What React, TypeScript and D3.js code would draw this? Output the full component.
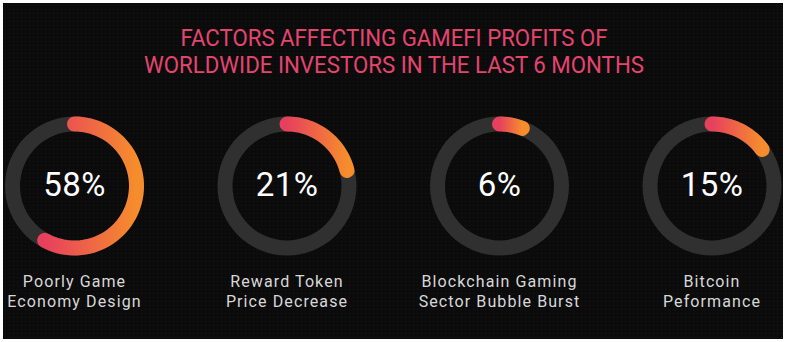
import React from "react";
import * as d3 from "d3";

const titleLines = ["FACTORS AFFECTING GAMEFI PROFITS OF", "WORLDWIDE INVESTORS IN THE LAST 6 MONTHS"];
const categories = [
  ["Poorly Game", "Economy Design"],
  ["Reward Token", "Price Decrease"],
  ["Blockchain Gaming", "Sector Bubble Burst"],
  ["Bitcoin", "Peformance"],
];
const values = [58, 21, 6, 15];

const W = 788;
const H = 342;

export default function App() {
  const x = d3.scalePoint<number>().domain(d3.range(values.length)).range([74.5, 712]);
  const angle = d3.scaleLinear().domain([0, 100]).range([0, 2 * Math.PI]);
  const rOuter = 69.5;
  const thick = 15;
  const rMid = rOuter - thick / 2;
  const cy = 186;
  const track = d3.arc<any>()({
    innerRadius: rOuter - thick,
    outerRadius: rOuter,
    startAngle: 0,
    endAngle: 2 * Math.PI,
  } as any) as string;

  return (
    <div style={{ position: "fixed", left: 0, top: 0 }}>
      <svg width={W} height={H} style={{ display: "block" }}>
        <defs>
          <pattern id="dots" width="4" height="4" patternUnits="userSpaceOnUse">
            <rect width="4" height="4" fill="#0b0b0b" />
            <rect x="1" y="1" width="1" height="1" fill="#171717" />
          </pattern>
          <linearGradient id="grad" x1="0" y1="0" x2="1" y2="0">
            <stop offset="0" stopColor="#e7405d" />
            <stop offset="1" stopColor="#f68d2c" />
          </linearGradient>
        </defs>
        <rect width={W} height={H} fill="#ffffff" />
        <rect x={3} y={3} width={780} height={336} fill="url(#dots)" />
        {titleLines.map((t, i) => (
          <text
            key={i}
            x={394}
            y={46 + i * 27}
            textAnchor="middle"
            fill="#e4456f"
            fontFamily="'Liberation Sans Narrow', 'Roboto', sans-serif"
            fontSize={23.5}
            textLength={i === 0 ? 427 : 500}
            lengthAdjust="spacingAndGlyphs"
          >
            {t}
          </text>
        ))}
        {values.map((v, i) => {
          const cx = x(i) as number;
          const a = angle(v);
          const line = d3.lineRadial<number>()
            .angle((d) => d)
            .radius(rMid)
            .curve(d3.curveLinear);
          const pts = d3.range(0, 61).map((k) => (a * k) / 60);
          return (
            <g key={i} transform={`translate(${cx},${cy})`}>
              <path d={track} fill="#303030" />
              <path
                d={line(pts) as string}
                fill="none"
                stroke="url(#grad)"
                strokeWidth={thick}
                strokeLinecap="round"
              />
              <text
                x={0}
                y={10}
                textAnchor="middle"
                fill="#ffffff"
                fontFamily="Roboto, sans-serif"
                fontSize={33}
                letterSpacing={0.5}
              >
                {v}%
              </text>
              {categories[i].map((c, j) => (
                <text
                  key={j}
                  x={0}
                  y={101 + j * 20}
                  textAnchor="middle"
                  fill="#d8d8d8"
                  fontFamily="Roboto, sans-serif"
                  fontSize={16}
                  letterSpacing={1.1}
                >
                  {c}
                </text>
              ))}
            </g>
          );
        })}
      </svg>
    </div>
  );
}
